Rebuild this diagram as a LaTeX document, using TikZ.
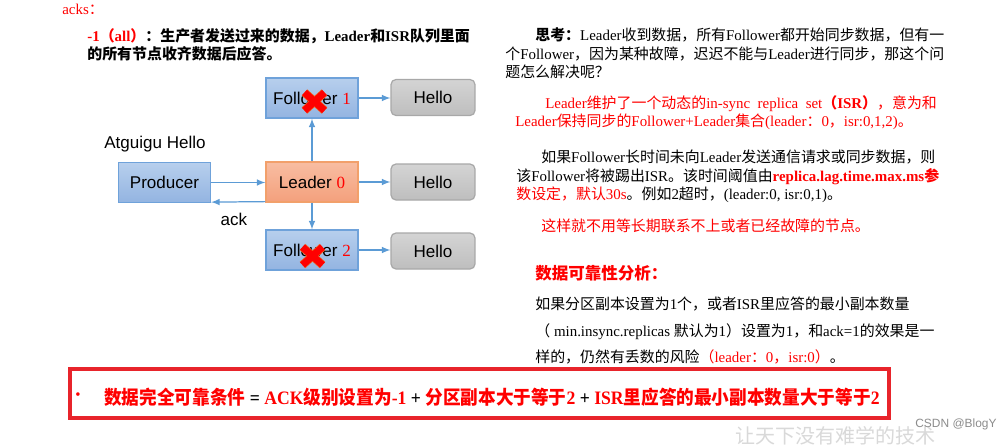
\documentclass[tikz,border=0pt]{standalone}
\usepackage{graphicx}
\usepackage{fontspec}
\setmainfont{Liberation Serif}
\setsansfont{Liberation Sans}
\newfontfamily\cjk{Noto Sans CJK SC}
\usetikzlibrary{calc, positioning}

% Chinese characters go to the CJK font, the rest stays in Liberation
\makeatletter
\chardef\cjkcls=77
\newcommand\setcjkrange[2]{\count@=#1\relax
  \loop\XeTeXcharclass\count@=\cjkcls\ifnum\count@<#2\advance\count@\@ne\repeat}
\setcjkrange{"3000}{"303F}
\setcjkrange{"4E00}{"9FFF}
\setcjkrange{"FF00}{"FFEF}
\makeatother
\newcommand\cjkon{\cjk}
\newcommand\cjkoff{\fontfamily{\rmdefault}\selectfont}
\XeTeXinterchartoks 0 \cjkcls = {\cjkon}
\XeTeXinterchartoks 4095 \cjkcls = {\cjkon}
\XeTeXinterchartoks \cjkcls \cjkcls = {\cjkon}
\XeTeXinterchartoks \cjkcls 0 = {\cjkoff}
\XeTeXinterchartoks \cjkcls 4095 = {\cjkoff}
\XeTeXinterchartokenstate=1

\definecolor{bluetop}{HTML}{B7CFED}
\definecolor{bluebot}{HTML}{93B4E1}
\definecolor{blueline}{HTML}{6FA2DA}
\definecolor{orangetop}{HTML}{F8BDA2}
\definecolor{orangebot}{HTML}{F4A07C}
\definecolor{orangeline}{HTML}{F2A06B}
\definecolor{graytop}{HTML}{D4D4D4}
\definecolor{graybot}{HTML}{BEBEBE}
\definecolor{grayline}{HTML}{A8A8A8}
\definecolor{arrowblue}{HTML}{5B9BD5}
\definecolor{boxred}{HTML}{E8242B}
\definecolor{xred}{HTML}{FF0000}
\definecolor{xedge}{HTML}{F26522}

\begin{document}
\begin{tikzpicture}[x=0.02cm, y=-0.02cm, >=latex,
    every node/.style={inner sep=0pt},
    txt/.style={anchor=base west, font=\fontsize{8.5}{10}\selectfont},
    diag/.style={font=\sffamily\fontsize{9.7}{11}\selectfont},
    fbox/.style={diag, draw=blueline, line width=0.7pt, top color=bluetop, bottom color=bluebot,
        minimum width=1.84cm, minimum height=0.8cm},
    lbox/.style={fbox, draw=orangeline, top color=orangetop, bottom color=orangebot},
    hellobox/.style={diag, draw=grayline, line width=0.7pt, rounded corners=0.1cm,
        top color=graytop, bottom color=graybot, minimum width=1.68cm, minimum height=0.72cm},
    arr/.style={->, draw=arrowblue, line width=0.7pt},
    xline/.style={draw=xred, line width=4pt, preaction={draw=xedge, line width=4.8pt}}]

    \fill[white] (0,0) rectangle (1000,444);
    \useasboundingbox (0,0) rectangle (1000,444);

    % Left: acks = -1
    \node[txt, red] (acks) at (62,14) {acks：};
    \node[txt, font=\bfseries\fontsize{8.5}{10}\selectfont] (all1) at (87,41)
        {\textcolor{red}{-1（all）}：生产者发送过来的数据，Leader和ISR队列里面};
    \node[txt, font=\bfseries\fontsize{8.5}{10}\selectfont] (all2) at (87,59) {的所有节点收齐数据后应答。};

    % Diagram
    \node[fbox] (f1) at (312,98) {Follower \textcolor{red}{\rmfamily 1}};
    \node[hellobox] (h1) at (433,97.5) {Hello};
    \node[diag, anchor=base] (msg) at (155,148) {Atguigu Hello};
    \node[fbox] (prod) at (164.5,182.5) {Producer};
    \node[lbox] (lead) at (312,182) {Leader \textcolor{red}{\rmfamily 0}};
    \node[hellobox] (h2) at (433,182) {Hello};
    \node[diag, anchor=base] (ack) at (234,225) {ack};
    \node[fbox] (f2) at (312,250) {Follower \textcolor{red}{\rmfamily 2}};
    \node[hellobox] (h3) at (433,251) {Hello};

    \draw[arr] (prod.east) -- (prod.east -| lead.west);
    \draw[arr] ([yshift=0.02cm]lead.south west) -- ([yshift=0.02cm]prod.south east);
    \draw[arr] (lead.north) -- (f1.south);
    \draw[arr] (lead.south) -- (f2.north);
    \draw[arr] (f1.east) -- (f1.east -| h1.west);
    \draw[arr] (lead.east) -- (lead.east -| h2.west);
    \draw[arr] (f2.east) -- (f2.east -| h3.west);

    % failed followers
    \coordinate (x1) at (314.5,101.5);
    \coordinate (x2) at (312.5,256);
    \foreach \c in {x1,x2}
        \draw[xline] ([shift={(-10,-9)}]\c) -- ([shift={(10,9)}]\c)
                     ([shift={(-10,9)}]\c) -- ([shift={(10,-9)}]\c);

    % Right: notes
    \node[txt] (t1) at (535,40) {\textbf{思考：}Leader收到数据，所有Follower都开始同步数据，但有一};
    \node[txt] (t2) at (505,59) {个Follower，因为某种故障，迟迟不能与Leader进行同步，那这个问};
    \node[txt] (t3) at (505,77) {题怎么解决呢？};
    \node[txt, red] (t4) at (545,108) {Leader维护了一个动态的in-sync~~replica~~set\textbf{（ISR）}，意为和};
    \node[txt, red] (t5) at (515,126) {Leader保持同步的Follower+Leader集合(leader：0，isr:0,1,2)。};
    \node[txt] (t6) at (541,162) {如果Follower长时间未向Leader发送通信请求或同步数据，则};
    \node[txt] (t7) at (516,181) {该Follower将被踢出ISR。该时间阈值由\textcolor{red}{\textbf{replica.lag.time.max.ms参}}};
    \node[txt] (t8) at (516,199) {\textcolor{red}{数设定，默认30s}。例如2超时，(leader:0, isr:0,1)。};
    \node[txt, red] (t9) at (541,231) {这样就不用等长期联系不上或者已经故障的节点。};
    \node[txt, red, font=\bfseries\fontsize{9.4}{11}\selectfont] (t10) at (535,279) {数据可靠性分析：};
    \node[txt] (t11) at (535,309) {如果分区副本设置为1个，或者ISR里应答的最小副本数量};
    \node[txt] (t12) at (535,336) {（ min.insync.replicas 默认为1）设置为1，和ack=1的效果是一};
    \node[txt] (t13) at (535,362) {样的，仍然有丢数的风险\textcolor{red}{（leader：0，isr:0）}。};

    % Bottom: condition box
    \node[draw=boxred, line width=2.3pt, minimum width=16.38cm, minimum height=0.98cm] (cond) at (479.5,393.5) {};
    \node[red, font=\fontsize{8.5}{10}\selectfont] (dot) at (78,396) {•};
    \node[anchor=base west, font=\bfseries\fontsize{10.8}{12}\selectfont] (condtxt) at (104,404)
        {\scalebox{0.93}[1]{\textcolor{red}{数据完全可靠条件} = \textcolor{red}{ACK级别设置为-1} + \textcolor{red}{分区副本大于等于2} + \textcolor{red}{ISR里应答的最小副本数量大于等于2}}};

    % watermarks
    \node[anchor=west, text=gray!30, font=\fontsize{11.4}{12}\selectfont] (wm) at (735,436) {让天下没有难学的技术};
    \node[anchor=west, text=black!45, font=\sffamily\fontsize{6.8}{8}\selectfont] (csdn) at (915,424) {CSDN @BlogY};
\end{tikzpicture}
\end{document}
